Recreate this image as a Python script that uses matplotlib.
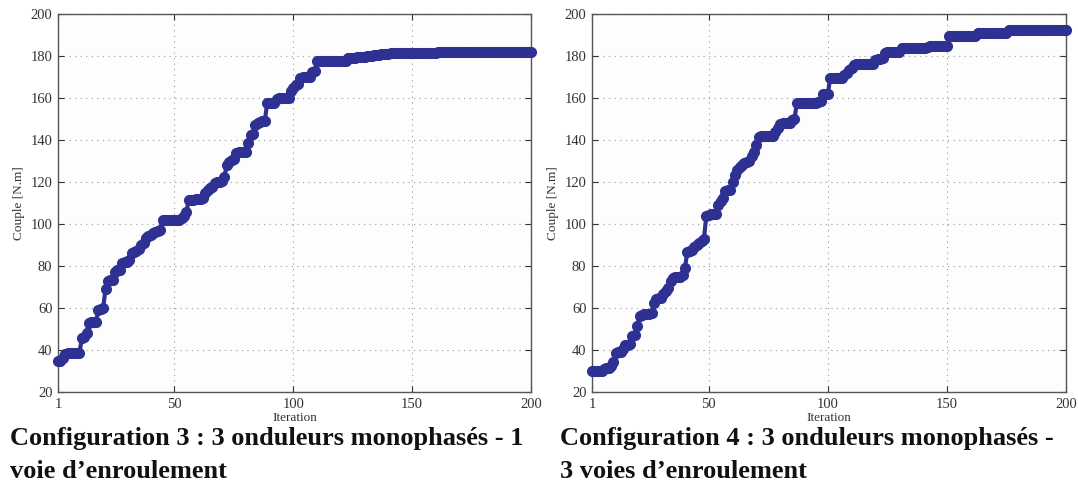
import matplotlib
matplotlib.use("Agg")
import matplotlib.pyplot as plt

# ---- data ----
iterations = list(range(1, 201))

couple_config3 = [
    35, 35, 36,
    38, 38.5, 38.5, 38.5, 38.5, 38.5, 38.5,
    45.5, 46, 48,
    53, 53.5, 53.5, 53.5,
    59, 59.5, 60,
    69,
    73, 73.5, 73.5,
    77, 78, 78,
    81.5, 82, 82,
    83, 86, 86.5, 87,
    88, 90, 91,
    93.5, 94.5, 95,
    95.5, 96, 96.5, 97,
    102, 102, 102, 102, 102, 102, 102, 102,
    103, 104, 105.5,
    111.5, 111.5, 111.5, 112, 112, 112, 112.5,
    115, 116, 117, 117.5,
    119.5, 120, 120, 120.5,
    122.5, 128, 129.5, 130.5, 131,
    134, 134.5, 134.5, 134.5, 134.5,
    138.5, 142.5, 143, 147, 148, 148.5, 149, 149,
    157.5, 157.5, 157.5, 157.5,
    159.5, 160, 160, 160, 160, 160,
    163.5, 165, 166, 166.5,
    169.5, 170, 170, 170, 170,
    172.5, 173,
    177.5, 177.5, 177.5, 177.5, 177.5, 177.5, 177.5, 177.5, 177.5, 177.5, 177.5, 177.5, 177.5,
    179, 179, 179, 179, 179.5, 179.5, 179.5, 179.5,
    180, 180, 180, 180.5, 180.5, 180.5,
    181, 181, 181, 181,
    181.5, 181.5, 181.5, 181.5, 181.5, 181.5, 181.5, 181.5, 181.5, 181.5,
    181.5, 181.5, 181.5, 181.5, 181.5, 181.5, 181.5, 181.5, 181.5, 181.5,
    182, 182, 182, 182, 182, 182, 182, 182, 182, 182,
    182, 182, 182, 182, 182, 182, 182, 182, 182, 182,
    182, 182, 182, 182, 182, 182, 182, 182, 182, 182,
    182, 182, 182, 182, 182, 182, 182, 182, 182, 182,
]

couple_config4 = [
    30, 30, 30, 30, 30,
    31, 31.5, 31.5,
    32.5, 34.5,
    38.5, 39, 39,
    40.5, 42.5, 42.5, 43,
    46.5, 47,
    51.5,
    56, 56.5, 57, 57, 57,
    57.5, 62.5,
    64.5, 65, 65,
    66.5, 68,
    69.5, 73,
    74.5, 75, 75, 75, 75.5,
    79,
    86.5, 87, 87.5,
    89, 90, 91,
    92, 93,
    104,
    104.5, 105, 105, 105,
    109, 111, 112.5,
    115.5, 116, 116,
    120,
    123.5, 125.5,
    127, 128, 129, 129.5, 130,
    132.5, 134.5, 137.5,
    141.5, 142, 142, 142, 142, 142, 142,
    144, 145.5,
    147.5, 148, 148, 148, 148,
    149.5, 150,
    157.5, 157.5, 157.5, 157.5, 157.5, 157.5, 157.5, 157.5, 157.5,
    158, 158.5,
    162, 162, 162,
    169.5, 169.5, 169.5, 169.5, 169.5, 169.5,
    171, 172, 173.5, 174.5,
    175.5, 176, 176, 176, 176, 176, 176, 176, 176,
    178, 178.5, 178.5, 179,
    181.5, 182, 182, 182, 182, 182, 182,
    184, 184, 184, 184, 184, 184, 184, 184, 184, 184, 184,
    184.5,
    185, 185, 185, 185, 185, 185, 185, 185,
    189.5, 189.5, 189.5, 189.5, 189.5, 189.5, 189.5, 189.5, 189.5, 189.5, 189.5, 189.5,
    191, 191, 191, 191, 191, 191, 191, 191, 191, 191, 191, 191, 191,
    192.5, 192.5, 192.5, 192.5, 192.5, 192.5, 192.5, 192.5, 192.5, 192.5,
    192.5, 192.5, 192.5, 192.5, 192.5, 192.5, 192.5, 192.5, 192.5, 192.5,
    192.5, 192.5, 192.5, 192.5, 192.5,
]

x_ticks = [1, 50, 100, 150, 200]
y_ticks = [20, 40, 60, 80, 100, 120, 140, 160, 180, 200]
captions = [
    ["Configuration 3 : 3 onduleurs monophasés - 1", "voie d\u2019enroulement"],
    ["Configuration 4 : 3 onduleurs monophasés -", "3 voies d\u2019enroulement"],
]
x_label = "Iteration"
y_label = "Couple [N.m]"

# ---- style ----
line_color = "#2e3192"
serif = ["Liberation Serif", "DejaVu Serif"]

fig = plt.figure(figsize=(10.78, 4.88), dpi=100)
fig.patch.set_facecolor("white")

axes_rects = [
    [58 / 1078, 1 - 392 / 488, 473 / 1078, 378 / 488],
    [592 / 1078, 1 - 392 / 488, 474 / 1078, 378 / 488],
]
caption_x = [10 / 1078, 560 / 1078]
caption_y = [1 - 438 / 488, 1 - 471 / 488]

for rect, series, cap, cx in zip(axes_rects, [couple_config3, couple_config4], captions, caption_x):
    ax = fig.add_axes(rect)
    ax.set_facecolor("#fdfdfd")
    ax.plot(iterations, series, color=line_color, linewidth=3,
            marker="o", markersize=7, markeredgecolor=line_color,
            markerfacecolor=line_color, clip_on=False, zorder=3)
    ax.set_xlim(1, 200)
    ax.set_ylim(20, 200)
    ax.set_xticks(x_ticks)
    ax.set_yticks(y_ticks)
    ax.grid(True, linestyle=(0, (1, 4)), color="#999999", linewidth=0.8)
    ax.tick_params(direction="in", top=True, right=True, length=4,
                   labelsize=10.5, colors="#333333", pad=4)
    for lab in ax.get_xticklabels() + ax.get_yticklabels():
        lab.set_family(serif)
    for sp in ax.spines.values():
        sp.set_color("#555555")
        sp.set_linewidth(1.0)
    ax.set_xlabel(x_label, family=serif, fontsize=9.5, color="#333333", labelpad=1)
    ax.set_ylabel(y_label, family=serif, fontsize=9.5, color="#333333", labelpad=4)
    for line, cy in zip(cap, caption_y):
        fig.text(cx, cy, line, family=serif, fontweight="bold",
                 fontsize=19, color="#111111", va="center", ha="left")

fig.savefig("out.png", dpi=100)
